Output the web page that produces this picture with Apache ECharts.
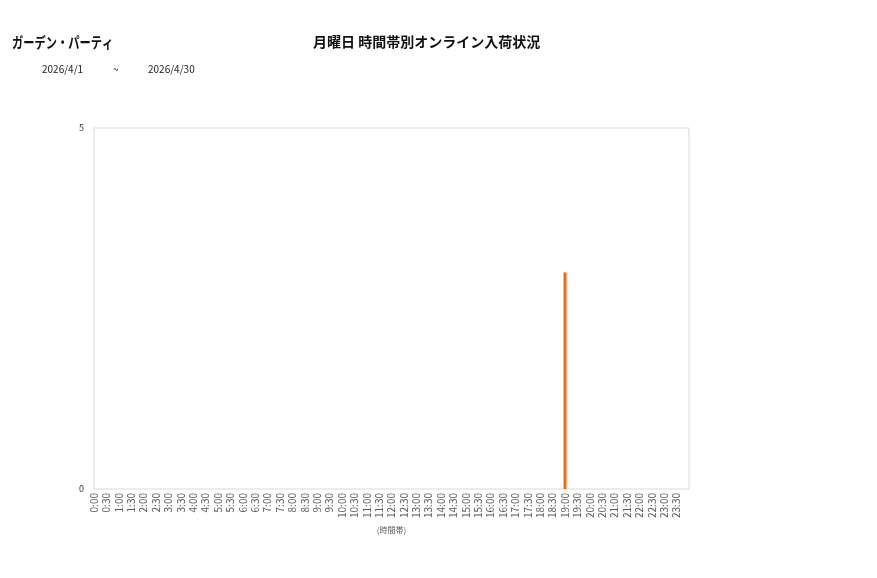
<!DOCTYPE html>
<html>
<head>
<meta charset="utf-8">
<script src="https://cdn.jsdelivr.net/npm/echarts@6/dist/echarts.min.js"></script>
<style>
html,body{margin:0;padding:0;background:#fff;}
#c{width:877px;height:578px;}
</style>
</head>
<body>
<div id="c"></div>
<script>
const shopName = 'ガーデン・パーティ';
const chartTitle = '月曜日 時間帯別オンライン入荷状況';
const dateFrom = '2026/4/1';
const dateSep = '~';
const dateTo = '2026/4/30';
const xAxisName = '(時間帯)';
const categories = ['0:00','0:30','1:00','1:30','2:00','2:30','3:00','3:30','4:00','4:30','5:00','5:30','6:00','6:30','7:00','7:30','8:00','8:30','9:00','9:30','10:00','10:30','11:00','11:30','12:00','12:30','13:00','13:30','14:00','14:30','15:00','15:30','16:00','16:30','17:00','17:30','18:00','18:30','19:00','19:30','20:00','20:30','21:00','21:30','22:00','22:30','23:00','23:30'];
const arrivals = [0,0,0,0,0,0,0,0,0,0,0,0,0,0,0,0,0,0,0,0,0,0,0,0,0,0,0,0,0,0,0,0,0,0,0,0,0,0,3,0,0,0,0,0,0,0,0,0];
const yTicks = [0, 5];

const font = '"Noto Sans CJK JP", "Noto Sans", sans-serif';
const chart = echarts.init(document.getElementById('c'));
chart.setOption({
  animation: false,
  textStyle: { fontFamily: font },
  graphic: [
    { type: 'text', x: 12, y: 35, scaleX: 0.75, style: { text: shopName, font: 'bold 15px ' + font, fill: '#111' } },
    { type: 'text', left: 313, top: 35, style: { text: chartTitle, font: 'bold 14px ' + font, fill: '#111' } },
    { type: 'text', left: 42, top: 64, style: { text: dateFrom, font: '10px ' + font, fill: '#222' } },
    { type: 'text', left: 113, top: 64, style: { text: dateSep, font: '10px ' + font, fill: '#222' } },
    { type: 'text', left: 148, top: 64, style: { text: dateTo, font: '10px ' + font, fill: '#222' } }
  ],
  grid: { left: 94, right: 188, top: 128, bottom: 89, show: true, borderColor: '#d9d9d9', borderWidth: 1 },
  xAxis: {
    type: 'category',
    data: categories,
    boundaryGap: false,
    max: categories.length,
    axisLine: { show: false },
    axisTick: { show: false },
    axisLabel: {
      interval: 0, rotate: 90, fontSize: 10, color: '#595959', margin: 4,
      formatter: function (v) { return v == null ? '' : v; }
    },
    name: xAxisName,
    nameLocation: 'middle',
    nameGap: 36,
    nameTextStyle: { fontSize: 8, color: '#595959' }
  },
  yAxis: {
    type: 'value',
    min: yTicks[0],
    max: yTicks[yTicks.length - 1],
    interval: 5,
    axisLine: { show: false },
    axisTick: { show: false },
    splitLine: { show: false },
    axisLabel: { fontSize: 9, color: '#333', margin: 10 }
  },
  series: [{
    type: 'bar',
    data: arrivals,
    barWidth: 3,
    itemStyle: { color: '#f4690f' }
  }]
});
</script>
</body>
</html>
